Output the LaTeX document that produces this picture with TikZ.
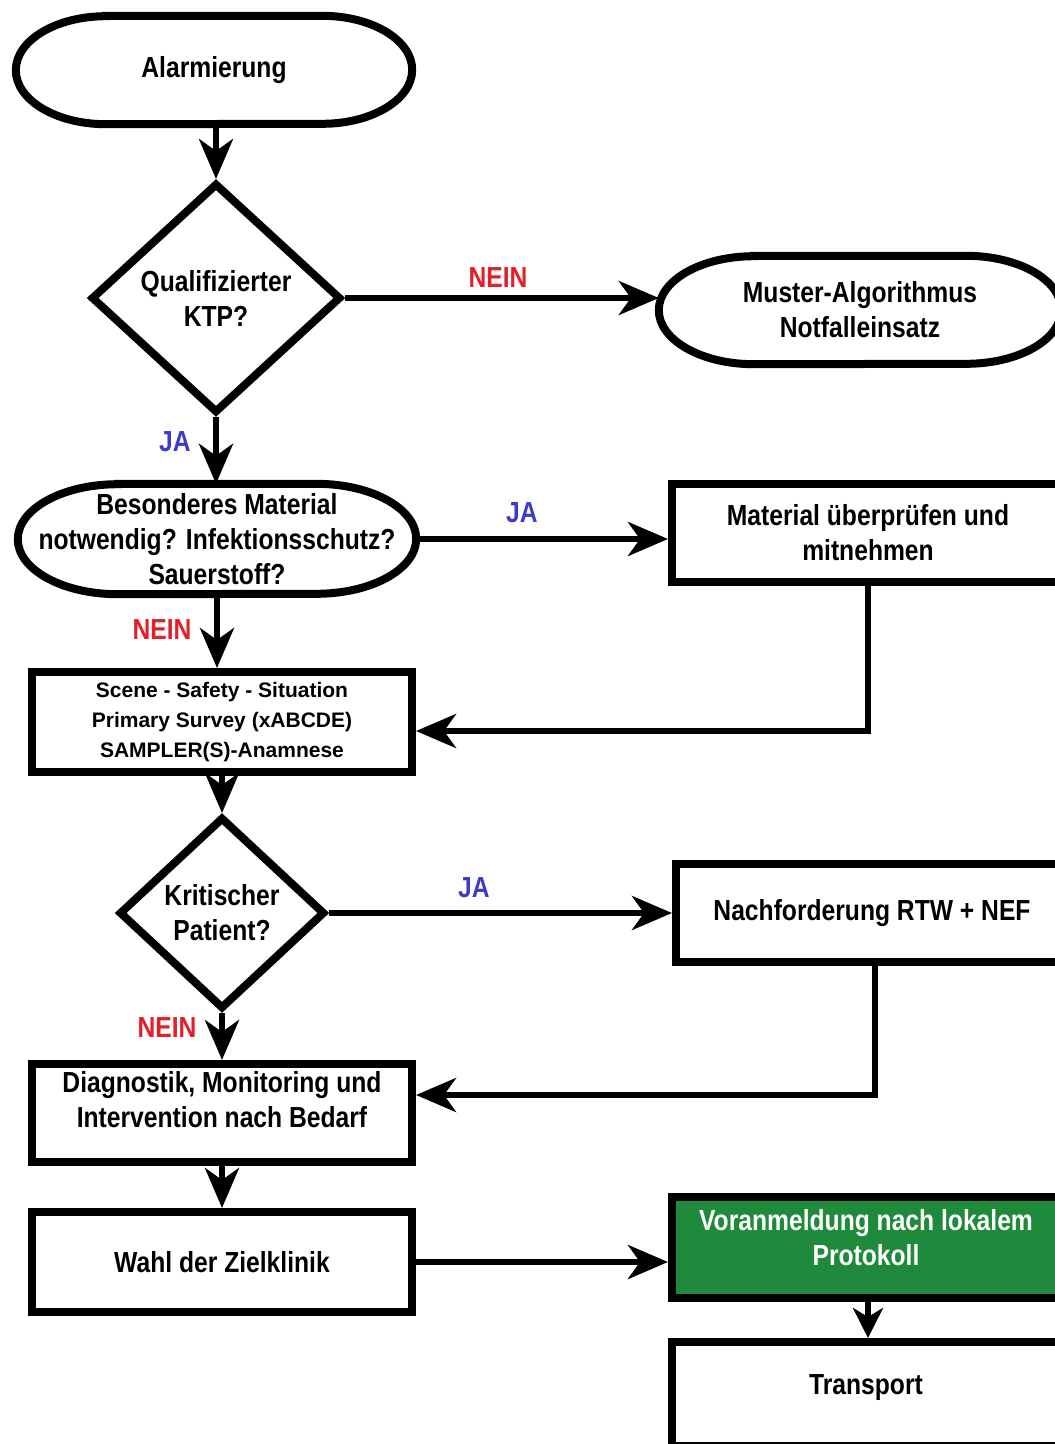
\documentclass[tikz,border=0pt]{standalone}
\usepackage{fontspec}
\setmainfont{Liberation Sans}[FakeStretch=0.85]
\newfontfamily\widefont{Liberation Sans}
\usetikzlibrary{arrows.meta,shapes.geometric}
\definecolor{nred}{HTML}{E3202A}
\definecolor{jblue}{HTML}{3B3BC8}
\definecolor{vgreen}{HTML}{1F8A3B}
\newcommand\ovalpath[3]{%
  \draw[line width=8pt] ([xshift=#2]#1.north west) -- ([xshift=-#2]#1.north east)
    arc[start angle=90,end angle=-90,x radius=#2,y radius=#3]
    -- ([xshift=#2]#1.south west)
    arc[start angle=270,end angle=90,x radius=#2,y radius=#3] -- cycle;}
\begin{document}
\begin{tikzpicture}[x=1pt,y=-1pt,
  txt/.style={font=\fontsize{29}{35}\selectfont\bfseries, align=center, text=black},
  box/.style={draw, line width=8pt, rectangle, minimum width=380pt, minimum height=98pt, txt},
  dia/.style={draw, diamond, line width=8pt, txt, inner sep=0pt},
  ovl/.style={txt, inner sep=0pt},
  conn/.style={line width=6pt, -{Stealth[length=40pt,width=34pt,inset=12pt]}},
  sconn/.style={line width=6pt, -{Stealth[length=30pt,width=30pt,inset=9pt]}},
  nlab/.style={txt, text=nred},
  jlab/.style={txt, text=jblue}]
\useasboundingbox (0,0) rectangle (1055,1444);

% nodes
\node[ovl, minimum width=396pt, minimum height=108pt] (alarm) at (214,70) {Alarmierung};
\ovalpath{alarm}{90pt}{54pt}

\node[dia, minimum width=250pt, minimum height=230pt] (d1) at (216,298) {Qualifizierter\\KTP?};

\node[ovl, minimum width=402pt, minimum height=108pt] (muster) at (860,310) {Muster-Algorithmus\\Notfalleinsatz};
\ovalpath{muster}{95pt}{54pt}

\node[ovl, minimum width=398pt, minimum height=110pt] (bes) at (217,539) {Besonderes Material\\notwendig? Infektionsschutz?\\Sauerstoff?};
\ovalpath{bes}{100pt}{55pt}

\node[box, minimum width=392pt] (mat) at (868,533) {Material überprüfen und\\mitnehmen};

\node[box, font=\widefont\fontsize{21}{30}\selectfont\bfseries, minimum height=100pt] (scene) at (222,722) {Scene - Safety - Situation\\Primary Survey (xABCDE)\\SAMPLER(S)-Anamnese};

\node[dia, minimum width=206pt, minimum height=192pt] (d2) at (222,913) {Kritischer\\Patient?};

\node[box, minimum width=392pt] (nach) at (872,913) {Nachforderung RTW + NEF};

\node[box] (diag) at (222,1113) {};
\node[txt] (diagt) at (222,1100) {Diagnostik, Monitoring und\\Intervention nach Bedarf};

\node[box, minimum height=100pt] (wahl) at (222,1262) {Wahl der Zielklinik};

\node[box, fill=vgreen, minimum width=392pt, minimum height=101pt] (vor) at (868,1247) {};
\node[txt, text=white] (vort) at (866,1238) {Voranmeldung nach lokalem\\Protokoll};

\node[box, minimum width=392pt, minimum height=104pt] (trans) at (868,1394) {};
\node[txt] (transt) at (866,1388) {Transport};

% labels
\node[nlab] (n1) at (498,278) {NEIN};
\node[jlab] (j1) at (175,442) {JA};
\node[jlab] (j2) at (522,513) {JA};
\node[nlab] (n2) at (162,630) {NEIN};
\node[jlab] (j3) at (474,888) {JA};
\node[nlab] (n3) at (167,1028) {NEIN};

\coordinate (c1) at (868,731);
\coordinate (c2) at (875,1095);

% connectors
\draw[conn] (alarm.south -| d1.north) -- (d1.north);
\draw[conn] (d1.east) -- (d1.east -| muster.west);
\draw[conn] (d1.south) -- (d1.south |- bes.north);
\draw[conn] (bes.east) -- (bes.east -| mat.west);
\draw[conn] (mat.south -| c1) -- (c1) -- (c1 -| scene.east);
\draw[conn] (bes.south) -- (bes.south |- scene.north);
\draw[conn] (scene.south) -- (d2.north);
\draw[conn] (d2.east) -- (d2.east -| nach.west);
\draw[conn] (nach.south -| c2) -- (c2) -- (c2 -| diag.east);
\draw[conn] (d2.south) -- (diag.north);
\draw[conn] (diag.south) -- (wahl.north);
\draw[conn] (wahl.east) -- (wahl.east -| vor.west);
\draw[sconn] (vor.south) -- (trans.north);
\end{tikzpicture}
\end{document}
